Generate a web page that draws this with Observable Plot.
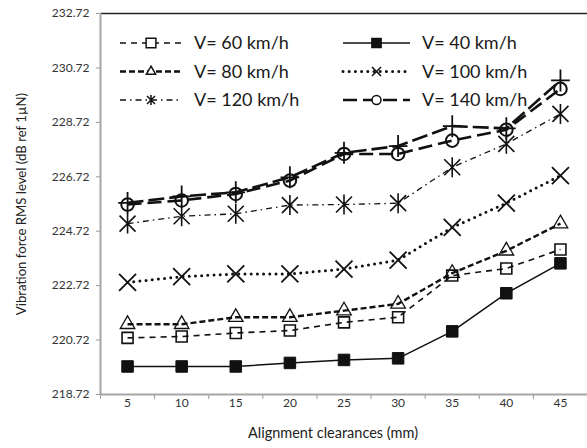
<!DOCTYPE html>
<html><head><meta charset="utf-8">
<script src="https://cdn.jsdelivr.net/npm/d3@7"></script>
<script src="https://cdn.jsdelivr.net/npm/@observablehq/plot@0.6"></script>
<style>body{margin:0;background:#fff}#chart svg{display:block}</style>
</head><body><div id="chart"></div>
<script>
// ---- data ----
const clearances = [5, 10, 15, 20, 25, 30, 35, 40, 45];
const v40  = [219.75, 219.75, 219.75, 219.88, 219.99, 220.05, 221.04, 222.44, 223.54];
const v60  = [220.80, 220.85, 220.98, 221.07, 221.37, 221.56, 223.09, 223.35, 224.05];
const v80  = [221.30, 221.30, 221.56, 221.56, 221.80, 222.05, 223.18, 224.00, 225.00];
const v100 = [222.84, 223.05, 223.15, 223.15, 223.33, 223.66, 224.86, 225.75, 226.76];
const v120 = [225.00, 225.27, 225.36, 225.68, 225.70, 225.75, 227.07, 227.93, 229.03];
const v140 = [225.70, 225.85, 226.09, 226.58, 227.56, 227.56, 228.05, 228.45, 229.95];
const vExtra = [225.76, 226.00, 226.15, 226.70, 227.60, 227.85, 228.58, 228.50, 230.26];
const yTicks = [218.72, 220.72, 222.72, 224.72, 226.72, 228.72, 230.72, 232.72];
const seriesNames = ["V= 60 km/h", "V= 80 km/h", "V= 120 km/h", "V= 40 km/h", "V= 100 km/h", "V= 140 km/h", "extra"];
const seriesValues = [v60, v80, v120, v40, v100, v140, vExtra];
const xLabel = "Alignment clearances (mm)";
const yLabel = "Vibration force RMS level (dB ref 1\u00B5N)";

// ---- symbols ----
const symAsterisk = {draw(c, s){const r=Math.sqrt(s/Math.PI), d=r*0.8; c.moveTo(0,-r);c.lineTo(0,r);c.moveTo(-d,-d);c.lineTo(d,d);c.moveTo(-d,d);c.lineTo(d,-d);}};
const symTimes = {draw(c, s){const r=Math.sqrt(s/Math.PI); c.moveTo(-r,-r);c.lineTo(r,r);c.moveTo(-r,r);c.lineTo(r,-r);}};
const symPlus = {draw(c, s){const r=Math.sqrt(s/Math.PI), h=r*0.85; c.moveTo(0,-r);c.lineTo(0,r);c.moveTo(-h,0);c.lineTo(h,0);}};

// styles per series (same order as seriesNames)
const styles = [
  {sym: d3.symbolSquare, r: 6.2, fill: "none", sw: 1.6, lw: 1.6, dash: "6,5", lr: 5.5},
  {sym: d3.symbolTriangle, r: 5.4, fill: "none", sw: 1.3, lw: 2.4, dash: "6,3", lr: 3.4},
  {sym: symAsterisk, r: 10, fill: "none", sw: 1.6, lw: 1.3, dash: "6,4,1.5,4", lr: 5},
  {sym: d3.symbolSquare, r: 6.5, fill: "#111", sw: 1, lw: 1.5, dash: null, lr: 5.2},
  {sym: symTimes, r: 8.5, fill: "none", sw: 1.8, lw: 3, dash: "0,6.2", cap: "round", lr: 4.5},
  {sym: d3.symbolCircle, r: 6.3, fill: "none", sw: 2, lw: 2.6, dash: "14,6", lr: 4.5},
  {sym: symPlus, r: 11, fill: "none", sw: 1.8, lw: 2.6, dash: "16,5", lr: 0}
];

const rows = [];
seriesNames.forEach((name, i) => seriesValues[i].forEach((v, j) => rows.push({series: name, x: clearances[j], y: v})));

const marks = [];
seriesNames.forEach((name, i) => {
  const st = styles[i];
  const data = rows.filter(d => d.series === name);
  marks.push(Plot.line(data, {x: "x", y: "y", stroke: "#111", strokeWidth: st.lw,
    strokeDasharray: st.dash, strokeLinecap: st.cap || "butt"}));
});
seriesNames.forEach((name, i) => {
  const st = styles[i];
  const data = rows.filter(d => d.series === name);
  marks.push(Plot.dot(data, {x: "x", y: "y", symbol: st.sym, r: st.r, fill: st.fill, stroke: "#111", strokeWidth: st.sw}));
});

const xMin = clearances[0] - 2.5, xMax = clearances[clearances.length-1] + 2.5;
const chart = Plot.plot({
  width: 587, height: 448,
  marginLeft: 100, marginRight: 0, marginTop: 13, marginBottom: 54,
  style: {fontFamily: "Lato, 'Open Sans', sans-serif", fontSize: "12px", background: "#fff", overflow: "visible"},
  x: {domain: [xMin, xMax]},
  y: {domain: [yTicks[0], yTicks[yTicks.length-1]]},
  marks: [
    Plot.axisY({ticks: yTicks, tickFormat: d => d.toFixed(2), tickSize: 4, tickPadding: 7, stroke: "#999", fill: "#333", label: null, fontSize: 12}),
    Plot.axisX({ticks: clearances, tickSize: 0, tickPadding: 4, fill: "#333", label: null, fontSize: 12}),
    Plot.axisX({ticks: d3.range(xMin, xMax + 0.1, 5), tickSize: 5, tickFormat: () => "", stroke: "#999", label: null}),
    Plot.ruleY([yTicks[yTicks.length-1]], {stroke: "#222", strokeWidth: 1.5}),
    Plot.ruleX([xMin], {stroke: "#a6a6a6", strokeWidth: 2}),
    Plot.ruleY([yTicks[0]], {stroke: "#a6a6a6", strokeWidth: 2}),
    ...marks,
    Plot.text([xLabel], {frameAnchor: "bottom", dx: -11, dy: 43, fontSize: 14.5, fill: "#222", textAnchor: "middle"}),
    Plot.text([yLabel], {frameAnchor: "left", dx: -79, rotate: -90, fontSize: 13.2, fill: "#222", textAnchor: "middle"})
  ]
});
document.getElementById("chart").appendChild(chart);

// ---- legend ----
const svg = d3.select(chart);
const lg = svg.append("g").attr("font-family", "Lato, 'Open Sans', sans-serif").attr("font-size", 18).attr("fill", "#1a1a1a");
const colX = [120, 343], colLen = [62, 67], rowY = [43, 71.5, 100];
for (let i = 0; i < 6; i++) {
  const st = styles[i];
  const col = Math.floor(i / 3), row = i % 3;
  const x0 = colX[col], x1 = x0 + colLen[col], y = rowY[row], xm = (x0 + x1) / 2;
  lg.append("line").attr("x1", x0).attr("x2", x1).attr("y1", y).attr("y2", y)
    .attr("stroke", "#111").attr("stroke-width", st.lw).attr("stroke-dasharray", st.dash)
    .attr("stroke-linecap", st.cap || "butt");
  lg.append("path").attr("transform", `translate(${xm},${y})`)
    .attr("d", d3.symbol(st.sym, Math.PI * st.lr * st.lr)())
    .attr("fill", st.fill === "none" ? "#fff" : st.fill).attr("stroke", "#111").attr("stroke-width", 1.5);
  lg.append("text").attr("x", x1 + 12).attr("y", y).attr("dy", "0.35em").attr("text-anchor", "start").text(seriesNames[i]);
}
</script>
</body></html>
